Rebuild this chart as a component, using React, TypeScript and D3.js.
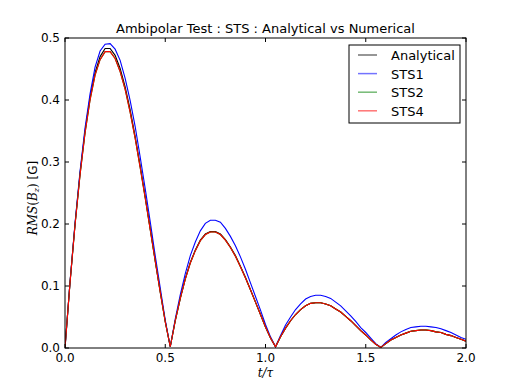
import React from "react";
import * as d3 from "d3";

// t / tau sample points (step 0.025)
const tValues = d3.range(0, 81).map((i) => i * 0.025);

const analytical = [
  0, 0.106, 0.2, 0.282, 0.35, 0.404, 0.444, 0.47, 0.483, 0.483, 0.472, 0.451,
  0.421, 0.384, 0.341, 0.294, 0.244, 0.193, 0.141, 0.091, 0.043, 0.002, 0.044,
  0.08, 0.112, 0.138, 0.158, 0.174, 0.184, 0.188, 0.188, 0.184, 0.175, 0.163,
  0.149, 0.132, 0.114, 0.094, 0.074, 0.054, 0.034, 0.016, 0.002, 0.018, 0.032,
  0.044, 0.054, 0.062, 0.068, 0.072, 0.073, 0.073, 0.071, 0.068, 0.063, 0.058,
  0.051, 0.044, 0.036, 0.028, 0.021, 0.013, 0.006, 0.001, 0.007, 0.013, 0.017,
  0.021, 0.024, 0.027, 0.028, 0.029, 0.029, 0.028, 0.026, 0.025, 0.022, 0.02,
  0.017, 0.014, 0.011,
];

const sts1 = [
  0, 0.106, 0.201, 0.285, 0.355, 0.41, 0.453, 0.479, 0.49, 0.491, 0.482, 0.464,
  0.435, 0.399, 0.357, 0.308, 0.257, 0.204, 0.149, 0.097, 0.045, 0.002, 0.047,
  0.086, 0.12, 0.149, 0.171, 0.189, 0.201, 0.206, 0.206, 0.203, 0.193, 0.18,
  0.165, 0.147, 0.127, 0.105, 0.083, 0.061, 0.038, 0.018, 0.002, 0.02, 0.037,
  0.05, 0.062, 0.071, 0.079, 0.083, 0.085, 0.085, 0.083, 0.08, 0.074, 0.068,
  0.06, 0.052, 0.043, 0.033, 0.025, 0.016, 0.007, 0.001, 0.009, 0.015, 0.021,
  0.026, 0.03, 0.033, 0.034, 0.035, 0.035, 0.034, 0.033, 0.031, 0.028, 0.025,
  0.021, 0.017, 0.014,
];

const sts2 = [
  0, 0.105, 0.198, 0.279, 0.347, 0.4, 0.44, 0.465, 0.478, 0.478, 0.467, 0.446,
  0.417, 0.38, 0.338, 0.291, 0.242, 0.191, 0.14, 0.09, 0.042, 0.002, 0.044,
  0.08, 0.111, 0.137, 0.157, 0.173, 0.183, 0.187, 0.187, 0.183, 0.174, 0.162,
  0.148, 0.131, 0.113, 0.094, 0.074, 0.054, 0.034, 0.016, 0.002, 0.018, 0.032,
  0.044, 0.054, 0.062, 0.068, 0.072, 0.073, 0.073, 0.071, 0.068, 0.063, 0.058,
  0.051, 0.044, 0.036, 0.028, 0.021, 0.013, 0.006, 0.001, 0.007, 0.013, 0.017,
  0.021, 0.024, 0.027, 0.028, 0.029, 0.029, 0.028, 0.026, 0.025, 0.022, 0.02,
  0.017, 0.014, 0.011,
];

const sts4 = [
  0, 0.105, 0.198, 0.279, 0.347, 0.4, 0.44, 0.465, 0.478, 0.478, 0.467, 0.446,
  0.417, 0.38, 0.338, 0.291, 0.242, 0.191, 0.14, 0.09, 0.042, 0.002, 0.044,
  0.08, 0.111, 0.137, 0.157, 0.173, 0.183, 0.187, 0.187, 0.183, 0.174, 0.162,
  0.148, 0.131, 0.113, 0.094, 0.074, 0.054, 0.034, 0.016, 0.002, 0.018, 0.032,
  0.044, 0.054, 0.062, 0.068, 0.072, 0.073, 0.073, 0.071, 0.068, 0.063, 0.058,
  0.051, 0.044, 0.036, 0.028, 0.021, 0.013, 0.006, 0.001, 0.007, 0.013, 0.017,
  0.021, 0.024, 0.027, 0.028, 0.029, 0.029, 0.028, 0.026, 0.025, 0.022, 0.02,
  0.017, 0.014, 0.011,
];

const seriesNames = ["Analytical", "STS1", "STS2", "STS4"];
const seriesColors = ["#000000", "#0000ff", "#008000", "#ff0000"];
const xTicks = [0, 0.5, 1, 1.5, 2];
const yTicks = [0, 0.1, 0.2, 0.3, 0.4, 0.5];

const W = 518;
const H = 388;
const m = { left: 65, right: 52, top: 38, bottom: 40 };
const font = "DejaVu Sans, sans-serif";

export default function App() {
  const x = d3.scaleLinear().domain([0, 2]).range([m.left, W - m.right]);
  const y = d3.scaleLinear().domain([0, 0.5]).range([H - m.bottom, m.top]);
  const allSeries = [analytical, sts1, sts2, sts4];
  const line = d3
    .line<number>()
    .x((_, i) => x(tValues[i]))
    .y((d) => y(d));

  const x0 = x(0), x1 = x(2), y0 = y(0), y1 = y(0.5);
  const tick = 4;

  return (
    <svg
      width={W}
      height={H}
      style={{ position: "absolute", left: 0, top: 0, background: "#fff" }}
      fontFamily={font}
    >
      <rect width={W} height={H} fill="#fff" />
      <defs>
        <clipPath id="plot">
          <rect x={x0} y={y1} width={x1 - x0} height={y0 - y1} />
        </clipPath>
      </defs>
      <g clipPath="url(#plot)">
        {allSeries.map((s, k) => (
          <path
            key={k}
            d={line(s) || ""}
            fill="none"
            stroke={seriesColors[k]}
            strokeWidth={1.1}
          />
        ))}
      </g>

      {/* ticks on all four sides, pointing inward */}
      {xTicks.map((t) => (
        <g key={"x" + t}>
          <line x1={x(t)} x2={x(t)} y1={y0} y2={y0 - tick} stroke="#000" />
          <line x1={x(t)} x2={x(t)} y1={y1} y2={y1 + tick} stroke="#000" />
          <text
            x={x(t)}
            y={y0 + 14}
            fontSize={12}
            textAnchor="middle"
            fill="#000"
          >
            {d3.format(".1f")(t)}
          </text>
        </g>
      ))}
      {yTicks.map((t) => (
        <g key={"y" + t}>
          <line x1={x0} x2={x0 + tick} y1={y(t)} y2={y(t)} stroke="#000" />
          <line x1={x1} x2={x1 - tick} y1={y(t)} y2={y(t)} stroke="#000" />
          <text
            x={x0 - 5}
            y={y(t) + 4}
            fontSize={12}
            textAnchor="end"
            fill="#000"
          >
            {d3.format(".1f")(t)}
          </text>
        </g>
      ))}
      <rect
        x={x0}
        y={y1}
        width={x1 - x0}
        height={y0 - y1}
        fill="none"
        stroke="#000"
        strokeWidth={1}
      />

      <text x={(x0 + x1) / 2} y={33} fontSize={13} textAnchor="middle">
        Ambipolar Test : STS : Analytical vs Numerical
      </text>
      <text
        x={(x0 + x1) / 2}
        y={377}
        fontSize={12}
        textAnchor="middle"
        fontFamily="DejaVu Serif, serif"
        fontStyle="italic"
      >
        t/τ
      </text>
      <text
        transform={`translate(37,${(y0 + y1) / 2 + 5}) rotate(-90)`}
        fontSize={12}
        textAnchor="middle"
      >
        <tspan fontFamily="DejaVu Serif, serif" fontStyle="italic">
          RMS
        </tspan>
        <tspan fontFamily="DejaVu Serif, serif">(</tspan>
        <tspan fontFamily="DejaVu Serif, serif" fontStyle="italic">
          B
        </tspan>
        <tspan
          fontFamily="DejaVu Serif, serif"
          fontStyle="italic"
          fontSize={8}
          dy={2}
        >
          z
        </tspan>
        <tspan fontFamily="DejaVu Serif, serif" dy={-2}>
          )
        </tspan>
        <tspan> [G]</tspan>
      </text>

      {/* legend */}
      <g>
        <rect
          x={349}
          y={45}
          width={111}
          height={78}
          fill="#fff"
          stroke="#000"
          strokeWidth={1}
        />
        {seriesNames.map((n, k) => (
          <g key={n} transform={`translate(0,${55 + k * 18.6})`}>
            <line
              x1={358}
              x2={377}
              y1={0}
              y2={0}
              stroke={seriesColors[k]}
              strokeOpacity={0.55}
              strokeWidth={1.5}
            />
            <text x={391} y={5} fontSize={13} fill="#000">
              {n}
            </text>
          </g>
        ))}
      </g>
    </svg>
  );
}
